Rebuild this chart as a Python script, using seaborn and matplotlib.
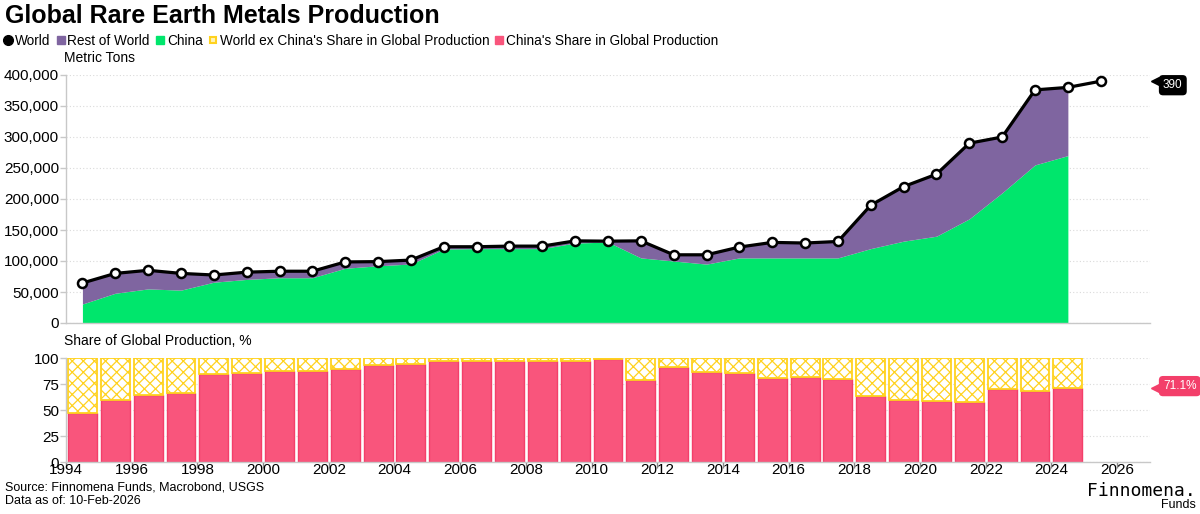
import pandas as pd
import seaborn as sns
import matplotlib.pyplot as plt
import matplotlib.ticker as mticker
from matplotlib.lines import Line2D

# data (metric tons)
years = list(range(1994, 2026))
world = [64500, 80000, 85000, 80000, 77400, 82000, 83500, 83500, 98500, 99000,
         101500, 123000, 123000, 124000, 124000, 132500, 132000, 132500, 110000, 110000,
         122500, 130000, 129000, 131500, 190000, 220000, 240000, 290000, 300000, 376000,
         380000, 390000]
china_years = list(range(1994, 2025))
china = [30600, 48000, 55000, 53000, 65800, 70300, 73000, 73000, 88300, 92300,
         95200, 119300, 120000, 120000, 120000, 129000, 130500, 105000, 100000, 95000,
         105000, 105000, 105000, 105000, 120000, 132000, 140000, 168000, 210000, 255000,
         270000]
tick_years = list(range(1994, 2027, 2))

GREEN = "#00E66C"
PURPLE = "#7F65A0"
PINK = "#F9557C"
PINK_EDGE = "#F33F6A"
YELLOW = "#FFD21F"
GRID = "#DADADA"
SPINE = "#C8C8C8"

sns.set_theme(style="white")
plt.rcParams['font.family'] = ['Liberation Sans', 'DejaVu Sans']
plt.rcParams['hatch.linewidth'] = 0.9
plt.rcParams['text.color'] = 'black'
plt.rcParams['xtick.color'] = 'black'
plt.rcParams['ytick.color'] = 'black'

df = pd.DataFrame({"year": years, "world": world})
df["x"] = df["year"] + 0.5
dfc = pd.DataFrame({"year": china_years, "china": china})
dfc["world"] = world[:len(china)]
dfc["x"] = dfc["year"] + 0.5
dfc["share"] = dfc["china"] / dfc["world"] * 100

fig = plt.figure(figsize=(12, 5.14), dpi=100)
W, H = 1200, 514
ax1 = fig.add_axes([66 / W, 1 - 323 / H, (1150 - 66) / W, (323 - 75) / H])
ax2 = fig.add_axes([66 / W, 1 - 462 / H, (1150 - 66) / W, (462 - 358) / H])

# top: stacked area + world line
ax1.fill_between(dfc["x"], 0, dfc["china"], color=GREEN, lw=0, zorder=2)
ax1.fill_between(dfc["x"], dfc["china"], dfc["world"], color=PURPLE, lw=0, zorder=2)
sns.lineplot(data=df, x="x", y="world", ax=ax1, color="black", lw=2.3, marker="o",
             markersize=6.5, markerfacecolor="white", markeredgecolor="black",
             markeredgewidth=1.8, zorder=5)
ax1.set_ylim(0, 400000)
ax1.set_yticks(range(0, 400001, 50000))
ax1.yaxis.set_major_formatter(mticker.StrMethodFormatter("{x:,.0f}"))

# bottom: share bars
ax2.bar(dfc["x"], dfc["share"], width=0.88, color=PINK, edgecolor=PINK_EDGE, lw=1, zorder=2)
ax2.bar(dfc["x"], 100 - dfc["share"], bottom=dfc["share"], width=0.88, color="white",
        edgecolor=YELLOW, hatch="xxx", lw=1.3, zorder=2)
ax2.set_ylim(0, 100)
ax2.set_yticks([0, 25, 50, 75, 100])

for ax in (ax1, ax2):
    ax.set_xlim(1994, 2027)
    ax.set_xticks(tick_years)
    ax.set_xlabel("")
    ax.set_ylabel("")
    ax.yaxis.grid(True, color=GRID, ls=(0, (1, 2)), lw=0.8)
    ax.xaxis.grid(False)
    ax.set_axisbelow(True)
    for s in ("top", "right"):
        ax.spines[s].set_visible(False)
    for s in ("left", "bottom"):
        ax.spines[s].set_color(SPINE)
        ax.spines[s].set_linewidth(1)
    ax.tick_params(axis="y", length=4, width=1, color=SPINE, labelsize=11, pad=1, left=True)
ax1.tick_params(axis="x", length=0, labelbottom=False)
ax2.tick_params(axis="x", length=4, width=1, color="#888888", labelsize=11, pad=-3, bottom=True)

# end-value callouts
ax1.plot([1.005], [world[-1]], marker="<", ms=6, color="black",
         transform=ax1.get_yaxis_transform(), clip_on=False)
ax1.annotate(f"{world[-1] / 1000:.0f}", xy=(1.0, world[-1]), xycoords=ax1.get_yaxis_transform(),
             xytext=(13, -4), textcoords="offset pixels", ha="left", va="center",
             color="white", fontsize=8.5,
             bbox=dict(boxstyle="round,pad=0.35", fc="black", ec="none"))
last_share = dfc["share"].iloc[-1]
ax2.plot([1.005], [last_share], marker="<", ms=6, color=PINK_EDGE,
         transform=ax2.get_yaxis_transform(), clip_on=False)
ax2.annotate(f"{last_share:.1f}%", xy=(1.0, last_share), xycoords=ax2.get_yaxis_transform(),
             xytext=(13, 2), textcoords="offset pixels", ha="left", va="center",
             color="white", fontsize=8.5,
             bbox=dict(boxstyle="round,pad=0.35", fc=PINK_EDGE, ec="none"))

# titles and labels
fig.text(5 / W, 1 - 4 / H, "Global Rare Earth Metals Production", fontsize=18,
         fontweight="bold", va="top", ha="left")
fig.text(64 / W, 1 - 58 / H, "Metric Tons", fontsize=10, va="center", ha="left")
fig.text(64 / W, 1 - 341 / H, "Share of Global Production, %", fontsize=10, va="center", ha="left")

handles = [
    Line2D([], [], marker="o", ls="", color="black", ms=7),
    Line2D([], [], marker="s", ls="", color=PURPLE, ms=5.5),
    Line2D([], [], marker="s", ls="", color=GREEN, ms=5.5),
    Line2D([], [], marker="s", ls="", mfc="#FFF3B8", mec=YELLOW, mew=1.5, ms=5),
    Line2D([], [], marker="s", ls="", color=PINK, ms=5.5),
]
labels = ["World", "Rest of World", "China", "World ex China's Share in Global Production",
          "China's Share in Global Production"]
fig.legend(handles, labels, loc="center left", bbox_to_anchor=(0.0, 1 - 41 / H), ncol=5,
           frameon=False, fontsize=9.8, handlelength=0.8, handletextpad=0.1,
           columnspacing=0.35, borderaxespad=0, borderpad=0.2)

# footer
fig.text(5 / W, 1 - 488 / H, "Source: Finnomena Funds, Macrobond, USGS", fontsize=9,
         va="center", ha="left")
fig.text(5 / W, 1 - 501 / H, "Data as of: 10-Feb-2026", fontsize=9, va="center", ha="left")
fig.text(1196 / W, 1 - 491 / H, "Finnomena.", fontsize=13, family="DejaVu Sans Mono",
         va="center", ha="right")
fig.text(1196 / W, 1 - 505 / H, "Funds", fontsize=9, va="center", ha="right")

fig.savefig("out.png", dpi=100)
